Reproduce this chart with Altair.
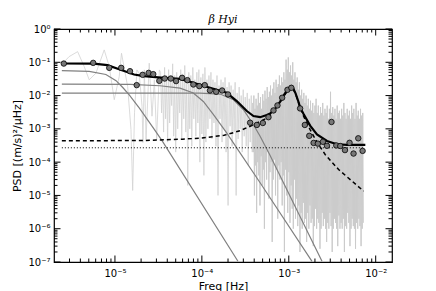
import altair as alt
import numpy as np
import pandas as pd

# ---------------- data ----------------
# raw spectrum, low-frequency part (freq Hz, PSD)
spec_left_f = [2.48e-6, 2.97e-6, 3.72e-6, 4.43e-6, 5.06e-6, 6.04e-6, 7.53e-6, 8.6e-6, 9.82e-6,
               1.12e-5, 1.19e-5, 1.40e-5, 1.53e-5, 1.60e-5, 1.68e-5, 1.79e-5, 1.90e-5, 2.05e-5,
               2.10e-5, 2.18e-5, 2.28e-5, 2.48e-5, 2.67e-5, 2.84e-5, 3.02e-5, 3.24e-5]
spec_left_p = [0.09, 0.148, 0.209, 0.0743, 0.0297, 0.0472, 0.235, 0.0743, 7.5e-3,
               0.0373, 0.187, 0.0187, 9.5e-4, 1.41e-5, 3.05e-3, 0.059, 0.047, 4.7e-3,
               3.9e-4, 0.059, 4.8e-4, 0.094, 2.4e-3, 0.0297, 4.8e-4, 0.059]
# middle part: alternating local highs / lows
spec_mid_range = [3.35e-5, 3.8e-4]
spec_mid_high = [0.05, 0.03, 0.07, 0.04, 0.06, 0.035, 0.09, 0.04, 0.05, 0.03, 0.06, 0.045, 0.08,
                 0.03, 0.05, 0.04, 0.07, 0.03, 0.05, 0.06, 0.035, 0.045, 0.07, 0.03, 0.04, 0.05,
                 0.03, 0.025, 0.04, 0.02, 0.03, 0.025, 0.035, 0.018, 0.025, 0.02, 0.015, 0.025,
                 0.012, 0.018, 0.01, 0.015, 0.009, 0.012, 0.008, 0.01]
spec_mid_low = [3e-3, 8e-4, 2e-3, 4e-4, 1.5e-3, 5e-3, 6e-4, 2e-4, 1e-3, 3e-3, 5e-4, 2e-3, 8e-4,
                2e-5, 1e-3, 3e-4, 2e-3, 6e-4, 1.5e-3, 1e-4, 7e-4, 4e-5, 4e-4, 1e-3, 2e-3, 5e-4,
                1.5e-3, 3e-4, 1e-5, 2e-3, 4e-4, 1e-3, 2e-4, 5e-6, 1.2e-3, 3e-4, 8e-4, 1e-5, 5e-4,
                1e-3, 2e-4, 6e-4, 3e-4, 8e-5, 4e-4, 2e-4]
# high-frequency part: alternating local highs / lows
spec_right_range = [3.85e-4, 7.2e-3]
spec_right_high = [6e-3, 1e-2, 4e-3, 8e-3, 5e-3, 1.2e-2, 6e-3, 9e-3, 4e-3, 1.1e-2,
                   7e-3, 1.4e-2, 8e-3, 1.8e-2, 9e-3, 1.3e-2, 2e-2, 1e-2, 1.6e-2, 2.5e-2,
                   1.2e-2, 3e-2, 1.8e-2, 2.2e-2, 4e-2, 2e-2, 3.5e-2, 2.5e-2, 5e-2, 3e-2,
                   1.2e-1, 6e-2, 1.4e-1, 5e-2, 8e-2, 4e-2, 1e-1, 3e-2, 5e-2, 2.5e-2,
                   3.5e-2, 1.5e-2, 2.5e-2, 1e-2, 1.5e-2, 8e-3, 1.2e-2, 6e-3, 1e-2, 5e-3,
                   8e-3, 4e-3, 7e-3, 3.5e-3, 6e-3, 3e-3, 5e-3, 8e-3, 3e-3, 5e-3,
                   2.5e-3, 4.5e-3, 3e-3, 6e-3, 2.5e-3, 4e-3, 3e-3, 5e-3, 2e-3, 4e-3,
                   1.3e-2, 3e-3, 4.5e-3, 2.5e-3, 4e-3, 2e-3, 5e-3, 3e-3, 3.5e-3, 2e-3,
                   4e-3, 2.5e-3, 6e-3, 3e-3, 2e-3, 4e-3, 2.5e-3, 3.5e-3, 2e-3, 5e-3,
                   3e-3, 4e-3, 2e-3, 6e-3, 2.5e-3, 3.5e-3, 2e-3, 4e-3, 2.5e-3, 3e-3]
spec_right_low = [2e-4, 1e-5, 8e-5, 3e-6, 1e-4, 4e-5, 5e-6, 1.5e-4, 2e-5, 6e-5,
                  1e-6, 1e-4, 3e-5, 2e-4, 8e-6, 5e-5, 1e-4, 4e-7, 3e-5, 1.2e-4,
                  1e-5, 6e-5, 2e-6, 8e-5, 3e-5, 1e-4, 5e-6, 4e-5, 2e-7, 6e-5,
                  1e-5, 3e-6, 5e-5, 1.5e-6, 2e-5, 4e-6, 1e-6, 3e-5, 2e-6, 8e-6,
                  1.2e-6, 5e-6, 2e-7, 3e-6, 1e-6, 6e-6, 1.5e-6, 2e-6, 4e-7, 3e-6,
                  1e-6, 5e-6, 1.5e-6, 2e-6, 3e-7, 1.2e-6, 4e-6, 1e-6, 2e-6, 1.5e-6,
                  2.5e-7, 1e-6, 3e-6, 1.2e-6, 2e-6, 1e-6, 4e-7, 1.5e-6, 1e-6, 3e-6,
                  1.2e-6, 2e-7, 1e-6, 2e-6, 1.5e-6, 1e-6, 3e-7, 2.5e-6, 1e-6, 1.5e-6,
                  1e-6, 2e-6, 2e-7, 1.2e-6, 1e-6, 3e-6, 1.5e-6, 3e-7, 1e-6, 2e-6,
                  1.2e-6, 1e-6, 2.5e-7, 1.5e-6, 1e-6, 2e-6, 1.2e-6, 3e-7, 1e-6, 1.5e-6]

# binned spectrum (circles)
bin_f = [2.58e-6, 5.62e-6, 8.6e-6, 1.18e-5, 1.49e-5, 1.78e-5, 2.08e-5, 2.44e-5, 2.76e-5, 3.24e-5,
         3.74e-5, 4.39e-5, 5.05e-5, 5.92e-5, 6.81e-5, 7.98e-5, 9.35e-5, 1.08e-4, 1.24e-4, 1.46e-4,
         1.71e-4, 2.0e-4, 3.59e-4, 4.29e-4, 5.03e-4, 5.84e-4, 6.67e-4, 7.41e-4, 8.39e-4, 9.66e-4,
         1.07e-3, 1.35e-3, 1.53e-3, 1.72e-3, 1.93e-3, 2.16e-3, 2.47e-3, 2.75e-3, 3.10e-3, 3.52e-3,
         3.91e-3, 4.43e-3, 5.0e-3, 5.56e-3, 6.3e-3, 7.07e-3]
bin_p = [0.0914, 0.096, 0.068, 0.068, 0.054, 0.0206, 0.042, 0.048, 0.044, 0.0277,
         0.0325, 0.0325, 0.0272, 0.0341, 0.0291, 0.0215, 0.0192, 0.0206, 0.0142, 0.013,
         0.0142, 0.0108, 1.53e-3, 1.31e-3, 1.5e-3, 2.24e-3, 3.58e-3, 5.06e-3, 8.6e-3, 0.0149,
         0.0171, 4.11e-3, 1.31e-3, 6.17e-4, 3.78e-4, 3.6e-4, 4.08e-4, 3.1e-4, 1.61e-3, 3.18e-4,
         3.05e-4, 2.3e-4, 3.81e-4, 1.81e-4, 5.2e-4, 2.18e-4]

# total fit (thick black)
fit_f = [2.45e-6, 5.7e-6, 8.2e-6, 1.16e-5, 1.66e-5, 2.16e-5, 3.67e-5, 5.61e-5, 8.0e-5, 1.24e-4,
         1.93e-4, 2.52e-4, 3.29e-4, 3.92e-4, 4.68e-4, 5.59e-4, 6.1e-4, 6.97e-4, 7.96e-4, 8.7e-4,
         9.5e-4, 1.04e-3, 1.07e-3, 1.12e-3, 1.2e-3, 1.3e-3, 1.35e-3, 1.48e-3, 1.76e-3, 2.11e-3,
         2.75e-3, 3.58e-3, 4.66e-3, 7.6e-3]
fit_p = [0.092, 0.091, 0.082, 0.060, 0.043, 0.0384, 0.0341, 0.0318, 0.0242, 0.0171,
         0.0121, 6.85e-3, 3.43e-3, 2.43e-3, 2.24e-3, 2.61e-3, 2.9e-3, 4.0e-3, 6.6e-3, 1.0e-2,
         1.4e-2, 1.85e-2, 1.92e-2, 1.7e-2, 1.15e-2, 6.2e-3, 4.4e-3, 2.8e-3, 1.25e-3, 6.84e-4,
         4.34e-4, 3.44e-4, 3.3e-4, 3.3e-4]

# background (Harvey) components (grey)
h1_f = [2.45e-6, 5.06e-6, 7.87e-6, 1.03e-5, 1.23e-5, 1.46e-5, 1.91e-5, 2.81e-5, 3.51e-5, 2.6e-4]
h1_p = [0.0564, 0.0535, 0.043, 0.028, 0.0175, 0.0105, 4.2e-3, 1.0e-3, 4.3e-4, 1.05e-7]
h2_f = [2.45e-6, 1.5e-5, 3.3e-5, 5.61e-5, 7.98e-5, 1.04e-4, 1.36e-4, 1.93e-4, 2.75e-4, 4.68e-4, 1.85e-3]
h2_p = [0.0221, 0.0218, 0.0197, 0.0168, 0.0119, 6.65e-3, 2.66e-3, 7.53e-4, 1.9e-4, 2.4e-5, 1.05e-7]
h3_f = [2.45e-6, 9.5e-5, 1.62e-4, 2.31e-4, 3.01e-4, 3.92e-4, 4.68e-4, 6.0e-4, 2.41e-3]
h3_p = [0.0119, 0.0118, 0.0111, 7.48e-3, 3.76e-3, 1.33e-3, 6.0e-4, 1.73e-4, 1.05e-7]

# oscillation excess (dashed)
osc_f = [2.45e-6, 2.0e-5, 6e-5, 1.0e-4, 1.8e-4, 2.75e-4, 3.6e-4, 4.5e-4, 5.6e-4, 6.8e-4, 8.0e-4,
         9.0e-4, 1.0e-3, 1.05e-3, 1.1e-3, 1.2e-3, 1.3e-3, 1.48e-3, 1.76e-3, 2.11e-3, 2.62e-3,
         3.74e-3, 5.33e-3, 7.26e-3]
osc_p = [4.4e-4, 4.45e-4, 4.9e-4, 5.3e-4, 6.4e-4, 8.8e-4, 1.2e-3, 1.6e-3, 2.1e-3, 3.3e-3, 6.3e-3,
         1.05e-2, 1.6e-2, 1.85e-2, 1.7e-2, 1.12e-2, 5.9e-3, 2.4e-3, 9.5e-4, 4.0e-4, 1.7e-4,
         6.0e-5, 2.7e-5, 1.35e-5]

# white noise (dotted)
white_f = [2.45e-6, 7.1e-3]
white_p = [2.7e-4, 2.7e-4]

x_domain = [1.99e-6, 1.54e-2]
y_domain = [1e-7, 1.0]
x_label_values = [1e-5, 1e-4, 1e-3, 1e-2]
x_labels = ["10⁻⁵", "10⁻⁴", "10⁻³", "10⁻²"]
y_label_values = [1e-7, 1e-6, 1e-5, 1e-4, 1e-3, 1e-2, 1e-1, 1.0]
y_labels = ["10⁻⁷", "10⁻⁶", "10⁻⁵", "10⁻⁴", "10⁻³", "10⁻²", "10⁻¹", "10⁰"]

# ---------------- build tables ----------------
def zig(rng, highs, lows):
    n = 2 * len(highs)
    fs = np.geomspace(rng[0], rng[1], n)
    vals = []
    for h, l in zip(highs, lows):
        vals += [h, l]
    return list(fs), vals

mf, mp = zig(spec_mid_range, spec_mid_high, spec_mid_low)
rf, rp = zig(spec_right_range, spec_right_high, spec_right_low)
spec_lm = pd.DataFrame({"f": spec_left_f + mf + [rf[0]], "p": spec_left_p + mp + [rp[0]]})
spec_r = pd.DataFrame({"f": rf, "p": rp})

bins = pd.DataFrame({"f": bin_f, "p": bin_p})
fit = pd.DataFrame({"f": fit_f, "p": fit_p})
harvey = pd.concat([
    pd.DataFrame({"f": h1_f, "p": h1_p, "c": "h1"}),
    pd.DataFrame({"f": h2_f, "p": h2_p, "c": "h2"}),
    pd.DataFrame({"f": h3_f, "p": h3_p, "c": "h3"}),
])
osc = pd.DataFrame({"f": osc_f, "p": osc_p})
white = pd.DataFrame({"f": white_f, "p": white_p})

W, H = 338, 233
xscale = alt.Scale(type="log", domain=x_domain, nice=False)
yscale = alt.Scale(type="log", domain=y_domain, nice=False)

x_expr = "[" + ",".join("'%s'" % s for s in x_labels) + "][round(log(datum.value)/LN10)+5]"
y_expr = "[" + ",".join("'%s'" % s for s in y_labels) + "][round(log(datum.value)/LN10)+7]"

xaxis = alt.Axis(values=x_label_values, labelExpr=x_expr, title="Freq [Hz]",
                 labelPadding=6, titlePadding=2, labelFlush=False)
yaxis = alt.Axis(values=y_label_values, labelExpr=y_expr, title="PSD [(m/s)²/μHz]",
                 labelPadding=4, titlePadding=5)


def X(field):
    return alt.X(field, type="quantitative", scale=xscale, axis=xaxis)


def Y(field):
    return alt.Y(field, type="quantitative", scale=yscale, axis=yaxis)


spec_lm_layer = alt.Chart(spec_lm).mark_line(color="#d2d2d2", strokeWidth=0.8, clip=True).encode(
    x=X("f"), y=Y("p"))
spec_r_layer = alt.Chart(spec_r).mark_line(color="#cbcbcb", strokeWidth=1, clip=True).encode(
    x=X("f"), y=Y("p"))
harvey_layer = alt.Chart(harvey).mark_line(color="#808080", strokeWidth=1.2, clip=True).encode(
    x=X("f"), y=Y("p"), detail="c:N")
white_layer = alt.Chart(white).mark_line(color="black", strokeWidth=1, strokeDash=[1, 2]).encode(
    x=X("f"), y=Y("p"))
osc_layer = alt.Chart(osc).mark_line(color="black", strokeWidth=1.5, strokeDash=[4, 3], clip=True).encode(
    x=X("f"), y=Y("p"))
fit_layer = alt.Chart(fit).mark_line(color="black", strokeWidth=2.2).encode(
    x=X("f"), y=Y("p"))
bin_layer = alt.Chart(bins).mark_point(filled=True, shape="circle", size=30, fill="#777777",
                                       stroke="black", strokeWidth=0.8, opacity=1).encode(
    x=X("f"), y=Y("p"))

# inward ticks on all four sides
x_major = [v for v in [1e-6, 1e-5, 1e-4, 1e-3, 1e-2] if x_domain[0] < v < x_domain[1]]
x_minor = [m * 10.0 ** k for k in range(-6, -1) for m in range(2, 10)
           if x_domain[0] * 1.01 < m * 10.0 ** k < x_domain[1]]
y_major = list(y_label_values)
y_minor = [m * 10.0 ** k for k in range(-7, 0) for m in range(2, 10)]

tick_layers = []
for vals, ln in [(x_major, 6.5), (x_minor, 3.5)]:
    d = pd.DataFrame({"v": vals})
    tick_layers.append(alt.Chart(d).mark_rule(color="black", strokeWidth=1).encode(
        x=X("v"), y=alt.value(H), y2=alt.value(H - ln)))
    tick_layers.append(alt.Chart(d).mark_rule(color="black", strokeWidth=1).encode(
        x=X("v"), y=alt.value(0), y2=alt.value(ln)))
for vals, ln in [(y_major, 6.5), (y_minor, 3.5)]:
    d = pd.DataFrame({"v": vals})
    tick_layers.append(alt.Chart(d).mark_rule(color="black", strokeWidth=1).encode(
        y=Y("v"), x=alt.value(0), x2=alt.value(ln)))
    tick_layers.append(alt.Chart(d).mark_rule(color="black", strokeWidth=1).encode(
        y=Y("v"), x=alt.value(W), x2=alt.value(W - ln)))

chart = alt.layer(spec_lm_layer, spec_r_layer, harvey_layer, white_layer, osc_layer, fit_layer,
                  bin_layer, *tick_layers).properties(
    width=W, height=H,
    title=alt.Title("β Hyi", offset=5, dy=6, frame="group"),
    autosize=alt.AutoSizeParams(type="none"),
    padding={"left": 46, "top": 21, "right": 30, "bottom": 30},
).configure_axis(
    grid=False, ticks=False, domain=False,
    labelFont="DejaVu Sans", labelFontSize=10, labelColor="black",
    titleFont="DejaVu Sans", titleFontSize=11, titleFontWeight="normal", titleColor="black",
).configure_view(
    stroke="black", strokeWidth=1.2
).configure_title(
    font="DejaVu Serif", fontStyle="italic", fontSize=11, fontWeight="normal", color="black"
)

chart.save("out.html", embed_options={"renderer": "svg", "actions": False})
